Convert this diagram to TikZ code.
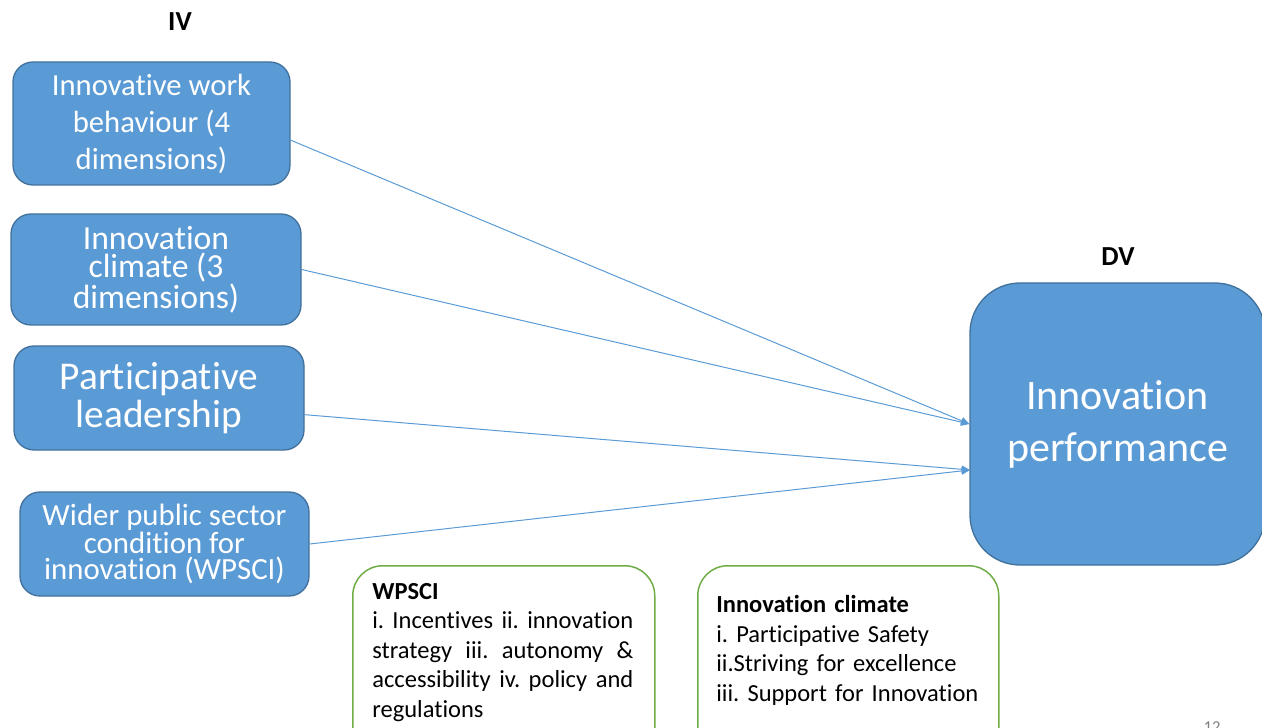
\documentclass[tikz,border=0pt]{standalone}
\usepackage{fontspec}
\setmainfont[Ligatures=NoCommon]{Carlito}
\usepackage{tikz}
\usetikzlibrary{arrows.meta}
\frenchspacing

\definecolor{boxblue}{RGB}{91,155,213}
\definecolor{boxedge}{RGB}{65,113,156}
\definecolor{notegreen}{RGB}{112,173,71}
\def\pxunit{0.6pt}

\begin{document}
\begin{tikzpicture}[
  x=0.6pt, y=-0.6pt,
  -{Triangle[length=5pt,width=4.5pt]},
  every edge/.style={draw=boxblue, line width=0.6pt},
  ivbox/.style={draw=boxedge, fill=boxblue, text=white, rounded corners=12pt,
    line width=0.8pt, align=center, inner sep=0pt},
  notebox/.style={draw=notegreen, rounded corners=18pt, line width=0.9pt,
    anchor=north west, minimum height=200*\pxunit},
  notetext/.style={anchor=north west, inner sep=0pt, text width=261*\pxunit,
    font=\fontsize{14.7pt}{17.7pt}\selectfont},
  head/.style={font=\fontsize{16.5pt}{18pt}\selectfont\bfseries},
]
\useasboundingbox (0,0) rectangle (1262,728);
\clip (0,0) rectangle (1262,728);

\node[head] (iv) at (180,22) {IV};
\node[head] (dvhead) at (1118,257) {DV};

\node[ivbox, minimum width=277*\pxunit, minimum height=123*\pxunit,
  font=\fontsize{18.4pt}{22.2pt}\selectfont] (iwb) at (151.5,123.5)
  {Innovative work\\behaviour (4\\dimensions)};
\node[ivbox, minimum width=290*\pxunit, minimum height=111*\pxunit,
  font=\fontsize{20.2pt}{16.8pt}\selectfont] (clim) at (156,269.5)
  {Innovation\\climate (3\\dimensions)};
\node[ivbox, minimum width=290*\pxunit, minimum height=104*\pxunit,
  font=\fontsize{23.6pt}{22.8pt}\selectfont] (lead) at (159,398)
  {Participative\\leadership};
\node[ivbox, minimum width=289*\pxunit, minimum height=104*\pxunit,
  font=\fontsize{18.5pt}{15.6pt}\selectfont] (wpsci) at (164.5,544)
  {Wider public sector\\condition for\\innovation (WPSCI)};

\node[ivbox, rounded corners=30pt, minimum width=295*\pxunit, minimum height=282*\pxunit,
  font=\fontsize{25.2pt}{31.2pt}\selectfont] (dv) at (1117.5,424)
  {Innovation\\performance};
\coordinate (dvlow) at (970,470);

% influences on innovation performance
\path
  ([yshift=-10pt]iwb.east) edge (dv.west)
  (clim.east) edge (dv.west)
  ([yshift=-10pt]lead.east) edge (dvlow)
  (wpsci.east) edge (dvlow);

% notes below
\node[notebox, minimum width=302*\pxunit] (wpscibox) at (352,565) {};
\node[notetext, align=justify] (wpscitxt) at (372,583)
  {\textbf{WPSCI}\\ i. Incentives ii. innovation strategy iii. autonomy \& accessibility iv. policy and regulations};
\node[notebox, minimum width=301*\pxunit] (climbox) at (697,565) {};
\node[notetext, align=left, text width=275*\pxunit] (climtxt) at (716,595)
  {\textbf{Innovation climate}\\ i. Participative Safety\\ ii.Striving for excellence\\ iii. Support for Innovation};

\node[anchor=north, text=gray, font=\fontsize{10pt}{12pt}\selectfont] (pageno) at (1212,716) {12};
\end{tikzpicture}
\end{document}
